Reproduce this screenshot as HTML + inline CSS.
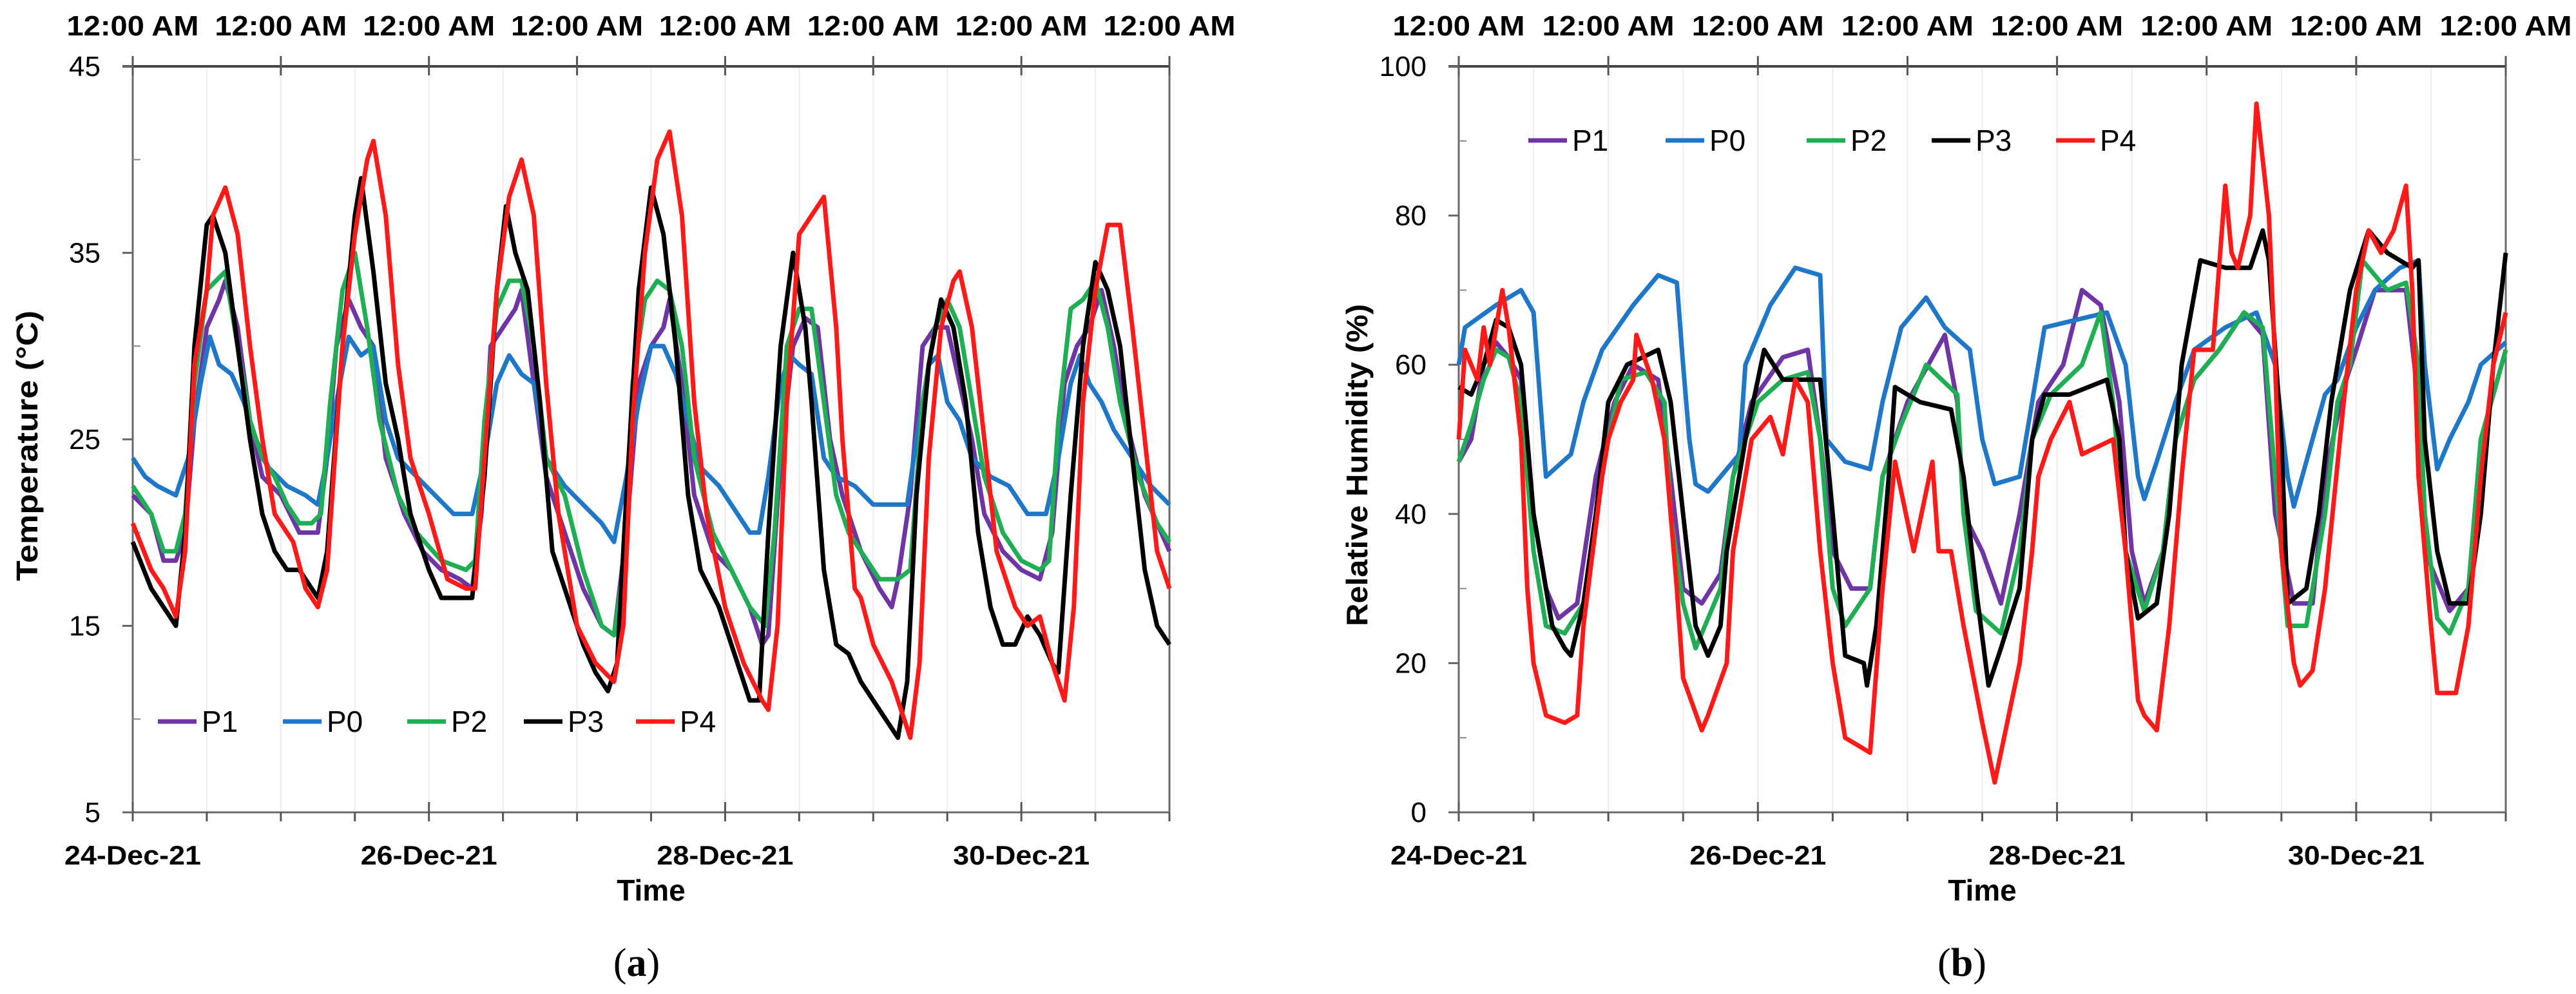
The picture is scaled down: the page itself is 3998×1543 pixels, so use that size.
<!DOCTYPE html>
<html><head><meta charset="utf-8">
<style>
html,body{margin:0;padding:0;background:#fff;}
svg{display:block;}
text{font-family:"Liberation Sans",sans-serif;fill:#000;}
</style></head>
<body>
<svg id="fig" width="3998" height="1543" viewBox="0 0 3998 1543" xmlns="http://www.w3.org/2000/svg"></svg>
<script>
// ---------- shared axis data ----------
const dayLabels = ["24-Dec-21","26-Dec-21","28-Dec-21","30-Dec-21"];
const topLabel = "12:00 AM";
const tempTicks = [5,15,25,35,45];
const rhTicks = [0,20,40,60,80,100];
const seriesNames = ["P1","P0","P2","P3","P4"];

// ---------- (a) temperature data: hours since 24-Dec 00:00, values in °C ----------
const tP1 = [0,3,5,7,8.5,10,12,14,15,17,19,21,24,27,29,30,31.5,33,35,37,39,41,44,47,50,53,55,56.5,58,60,62,63,65,67,70,73,76,78,80,82,84,86,87,89,91,94,97,100,102,103,105,107,109,111,113,115,118,121,123,124,126,128,130,132,134,136,138,141,144,147,149,151,153,155,157,159,161,164,168];
const tempP1 = [22,21,18.5,18.5,20,26,31,32.5,33.5,31,26,23,22,20,20,20,24,30,32.5,31,30,24,21,19,18,17.5,17,21,30,31,32,33,28,23,20,17,15,14.5,20,28,30,31,32.5,28,22,19,18,16,14,14.5,24,30,31.5,31,25,22,19,17,16,17.5,22,30,31,31,28,25,21,19,18,17.5,20,28,30,31,33,30,26,22,19];
const tP0 = [0,2,4,7,9,11,12.5,14,16,18,20,22,25,28,30,31.5,33,35,37,39,41,43,46,49,52,55,57,59,61,63,65,67,70,73,76,78,80,82,84,86,88,90,92,95,98,100,101.5,103,105,106.5,108,110,112,114,117,120,123,125.5,127,129,130.5,132,134,136,139,142,145,148,150,152,153.5,155,157,159,162,165,168];
const tempP0 = [24,23,22.5,22,24,28,30.5,29,28.5,27,25,23.5,22.5,22,21.5,24,27,30.5,29.5,30,26,24,23,22,21,21,24,28,29.5,28.5,28,24,22.5,21.5,20.5,19.5,23,27,30,30,28.5,26,23.5,22.5,21,20,20,23,28,29.5,29,28.5,24,23,22.5,21.5,21.5,21.5,25,29,29.5,27,26,24,23,22.5,21,21,24,28,29.5,28,27,25.5,24,22.5,21.5];
const tP2 = [0,3,5,7,8.5,10,12,13.5,15,17,19,21,23,25,27,29,30.5,32,34,36,38,40,43,46,50,54,55.5,57,59,61,63,65,67,70,73,76,78,79.5,81,83,85,87,89,91,94,97,100,102.5,104,106,108,110,112,114,116,118,121,124,126,128,130,132,134,136,138,141,144,147,148.5,150,152,154,156,158,160,163,166,168];
const tempP2 = [22.5,21,19,19,21,28,33,33.5,34,30,26,24,23,21.5,20.5,20.5,21,27,33,35,31,26,22,20,18.5,18,18.5,26,32,33.5,33.5,30,24,22,18,15,14.5,18,28,32.5,33.5,33,30,24,20,18,16,15,20,30,32,32,27,22,20,19,17.5,17.5,18,27,31,32.5,31,27,23,20,18.5,18,18.5,26,32,32.5,33.5,31,27,23,20.5,19.5];
const tP3 = [0,3,6,7,8.5,10,12,13,15,17,19,21,23,25,27,29,30,31.5,34,36,37,39,41,43,45,48,50,53,55,57,59,60.5,62,64,66,68,70,73,75,77,78.5,80,82,84,86,88,90,92,95,98,100,101.5,103,105,107,109,110,112,114,116,118,120,123,124,125.5,127,129,131,133,135,137,139,141,143,145,147,149,150,152,154,156,158,160,162,164,166,168];
const tempP3 = [19.5,17,15.5,15,20,30,36.5,37,35,30,25,21,19,18,18,17,16.5,19,30,37,39,34,28,25,21,18,16.5,16.5,16.5,23,33,37.5,35,33,27,19,17,14,12.5,11.5,13,22,33,38.5,36,30,22,18,16,13,11,11,20,30,35,31,27,18,14,13.5,12,11,9.5,9,12,22,29,32.5,31,27,20,16,14,14,15.5,14.5,13,12.5,22,30,34.5,33,30,24,18,15,14];
const tP4 = [0,3,5,7,8.5,10,12,13,15,17,19,21,23,25,26,28,30,31.5,34,36,38,39,41,43,45,48,51,54,55.5,57,59,61,63,65,67,69,72,75,78,79.5,81,83,85,87,89,91,93,96,99,102,103,104.5,106,108,110,112,114,115,117,118,120,123,125,126,127.5,129,131,133,134,136,138,140,143,145,147,149,151,152.5,154,156,158,160,162,164,166,168];
const tempP4 = [20.5,18,17,15.5,19,29,33,37,38.5,36,30,25,21,20,19.5,17,16,18,30,36,40,41,37,29,24,21,17.5,17,17,24,33,38,40,37,28,21,15,13,12,15,26,35,40,41.5,37,27,21,16,13,11,10.5,15,27,36,37,38,31,25,17,16.5,14,12,10,9,13,24,31,33.5,34,31,25,19,16,15,15.5,13,11,16,27,33,36.5,36.5,31,25,19,17];

// ---------- (b) relative humidity data ----------
const hP1 = [0,2,4,6,8,10,12,14,16,19,22,25,28,32,34,36,39,42,44,47,52,56,58,60,63,66,68,72,78,80,81,84,87,90,93,97,100,103,106,108,110,113,115,118,122,126,129,131,134,137,139,142,144,147,152,154,155,159,162,164,168];
const rhP1 = [47,50,60,63,61,58,40,30,26,28,45,55,60,58,45,30,28,32,45,55,61,62,50,35,30,30,45,55,64,55,40,35,28,40,55,60,70,68,55,35,28,35,50,58,62,67,64,40,28,28,45,57,62,70,70,55,35,27,30,50,62];
const hP0 = [0,1,6,10,12,14,18,20,23,28,32,35,36,37,38,40,45,46,50,54,58,59,62,66,68,71,75,78,82,84,86,90,92,94,99,104,107,109,110,112,115,118,123,128,131,133,134,137,139,141,144,147,151,154,155,157,159,162,164,168];
const rhP0 = [60,65,68,70,67,45,48,55,62,68,72,71,60,50,44,43,48,60,68,73,72,50,47,46,55,65,69,65,62,50,44,45,55,65,66,67,60,45,42,47,55,62,65,67,60,45,41,50,56,58,65,70,73,74,60,46,50,55,60,63];
const hP2 = [0,2,4,6,8,10,12,14,17,20,22,24,26,30,33,34,36,38,42,44,48,52,56,58,60,62,66,68,71,75,80,81,83,87,90,92,95,100,103,105,107,110,113,115,118,122,126,129,131,133,136,139,141,143,145,149,152,154,155,157,159,162,164,168];
const rhP2 = [47,52,58,62,61,55,35,25,24,28,40,50,58,59,55,40,28,22,30,45,55,58,59,50,30,25,30,45,52,60,56,40,27,24,35,50,56,60,67,55,35,27,35,50,58,62,67,65,45,25,25,40,55,60,74,70,71,60,40,26,24,30,50,62];
const hP3 = [0,2,4,6,8,10,12,15,17,18,20,22,24,27,32,34,36,38,40,42,43,46,49,52,58,60,62,65,65.5,67,69,70,74,79,81,83,85,87,90,92,94,98,104,106,107,109,112,114,116,119,123,127,129,130,132,133,136,138,140,143,146,149,153,154,155,157,159,162,164,166,168];
const rhP3 = [57,56,60,66,65,60,40,25,22,21,28,40,55,60,62,55,40,25,21,25,35,50,62,58,58,40,21,20,17,25,45,57,55,54,45,30,17,22,30,50,56,56,58,50,35,26,28,40,60,74,73,73,78,74,50,28,30,40,55,70,78,75,73,74,50,35,28,28,40,60,75];
const hP4 = [0,1,3,4,5,7,8,10,11,12,14,17,19,20,23,24,26,28,28.5,31,33,35,36,39,40,43,44,47,50,52,54,56,58,60,62,64,66,68,70,73,76,77,79,81,84,86,87,90,92,93,95,98,100,105,107,109,110,112,114,116,118,121,123,124,125,127,128,130,131,132,134,135,137,139,142,144,146,148,150,152,153,154,156,157,160,162,164,166,168];
const rhP4 = [50,62,58,65,60,70,65,50,30,20,13,12,13,25,45,50,55,58,64,58,50,30,18,11,13,20,35,50,53,48,58,55,35,20,10,9,8,30,47,35,47,35,35,25,12,4,8,20,35,45,50,55,48,50,35,15,13,11,25,45,62,62,84,75,73,80,95,80,60,35,20,17,19,30,55,70,78,75,78,84,70,45,25,16,16,25,45,60,67];

const colors = {P1:"#6f35a5",P0:"#1f77c8",P2:"#1fae54",P3:"#000000",P4:"#ff1a1a"};

const NS = "http://www.w3.org/2000/svg";
const svg = document.getElementById("fig");
function mk(tag, attrs, parent){
  const e = document.createElementNS(NS, tag);
  for (const k in attrs) e.setAttribute(k, attrs[k]);
  (parent||svg).appendChild(e);
  return e;
}

function drawChart(cfg){
  const g = mk("g", {});
  
  
  const {x0,x1,y0,y1,vmin,vmax} = cfg;
  const xs = h => x0 + (x1-x0)*h/168;
  const ys = v => y1 - (y1-y0)*(v-vmin)/(vmax-vmin);
  for (let h=12; h<168; h+=12){
    const l = mk("line",{x1:xs(h),x2:xs(h),y1:y0,y2:y1,stroke:"#ececec","stroke-width":2},g);
    
    
  }
  const ax = mk("path",{d:`M${x0},${y0}H${x1}V${y1}M${x0},${y0}V${y1}H${x1}`,stroke:"#6a6a6a","stroke-width":3,fill:"none"},g);
  
  
  const topAx = mk("line",{x1:x0-16,x2:x1,y1:y0,y2:y0,stroke:"#444","stroke-width":4},g);
  
  
  for (let h=0; h<=168; h+=12){
    const day = h%24===0;
    const t = mk("line",{x1:xs(h),x2:xs(h),y1:y1-((h%48===0)?16:0),y2:y1+14,stroke:"#555","stroke-width":3},g);
    
    
    if (day){
      const tt = mk("line",{x1:xs(h),x2:xs(h),y1:y0-16,y2:y0+14,stroke:"#555","stroke-width":3},g);
      
      
      const lab = mk("text",{x:xs(h),y:55,"text-anchor":"middle","font-size":44,"font-weight":"bold",textLength:205,lengthAdjust:"spacingAndGlyphs"},g);
      lab.textContent = topLabel;
      
      
    }
  }
  dayLabels.forEach((d,i)=>{
    const lab = mk("text",{x:xs(i*48),y:1342,"text-anchor":"middle","font-size":42,"font-weight":"bold",textLength:212,lengthAdjust:"spacingAndGlyphs"},g);
    lab.textContent = d;
    
    
  });
  const step = cfg.ticks[1]-cfg.ticks[0];
  cfg.ticks.forEach(v=>{
    const t = mk("line",{x1:x0-16,x2:x0,y1:ys(v),y2:ys(v),stroke:"#666","stroke-width":3},g);
    
    
    if (v<vmax){
      const m = mk("line",{x1:x0,x2:x0+12,y1:ys(v+step/2),y2:ys(v+step/2),stroke:"#888","stroke-width":2},g);
      
      
    }
    const lab = mk("text",{x:x0-50,y:ys(v)+15,"text-anchor":"end","font-size":44},g);
    lab.textContent = v;
    
    
  });
  const xt = mk("text",{x:(x0+x1)/2,y:1398,"text-anchor":"middle","font-size":46,"font-weight":"bold"},g);
  xt.textContent = "Time";
  
  
  const yt = mk("text",{x:0,y:0,"text-anchor":"middle","font-size":46,"font-weight":"bold",textLength:cfg.ytlen,lengthAdjust:"spacingAndGlyphs",transform:`translate(${cfg.ytx},${cfg.yty}) rotate(-90)`},g);
  yt.textContent = cfg.ytitle;
  
  
  cfg.series.forEach(s=>{
    let d = "";
    s.t.forEach((h,i)=>{ d += (i?"L":"M") + xs(h).toFixed(1) + "," + ys(s.v[i]).toFixed(1); });
    const p = mk("path",{d:d,fill:"none",stroke:colors[s.n],"stroke-width":7,"stroke-linejoin":"round"},g);
    
    
  });
  const lg = mk("g",{},g);
  
  
  seriesNames.forEach((n,i)=>{
    const lx = cfg.legX[i];
    const e = mk("g",{},lg);
    
    
    mk("line",{x1:lx,x2:lx+60,y1:cfg.legY,y2:cfg.legY,stroke:colors[n],"stroke-width":7},e);
    const tx = mk("text",{x:lx+68,y:cfg.legY+16,"font-size":46},e);
    tx.textContent = n;
  });
  const cap = mk("text",{x:cfg.capX,y:1515,"text-anchor":"middle","font-size":62,style:"font-family:'Liberation Serif',serif"},g);
  cap.innerHTML = '(<tspan font-weight="bold">' + cfg.cap + '</tspan>)';
  
  
}

drawChart({name:"temperature-chart",x0:206,x1:1815,y0:103,y1:1261,vmin:5,vmax:45,ticks:tempTicks,
  ytitle:"Temperature  (°C)",ytlen:420,ytx:58,yty:692,legY:1120,legX:[245,439,632,813,987],capX:988,cap:"a",
  series:[{n:"P1",t:tP1,v:tempP1},{n:"P0",t:tP0,v:tempP0},{n:"P2",t:tP2,v:tempP2},{n:"P3",t:tP3,v:tempP3},{n:"P4",t:tP4,v:tempP4}]});
drawChart({name:"humidity-chart",x0:2264,x1:3889,y0:103,y1:1261,vmin:0,vmax:100,ticks:rhTicks,
  ytitle:"Relative Humidity  (%)",ytlen:500,ytx:2122,yty:722,legY:218,legX:[2372,2585,2804,2998,3191],capX:3045,cap:"b",
  series:[{n:"P1",t:hP1,v:rhP1},{n:"P0",t:hP0,v:rhP0},{n:"P2",t:hP2,v:rhP2},{n:"P3",t:hP3,v:rhP3},{n:"P4",t:hP4,v:rhP4}]});
</script>
</body></html>
